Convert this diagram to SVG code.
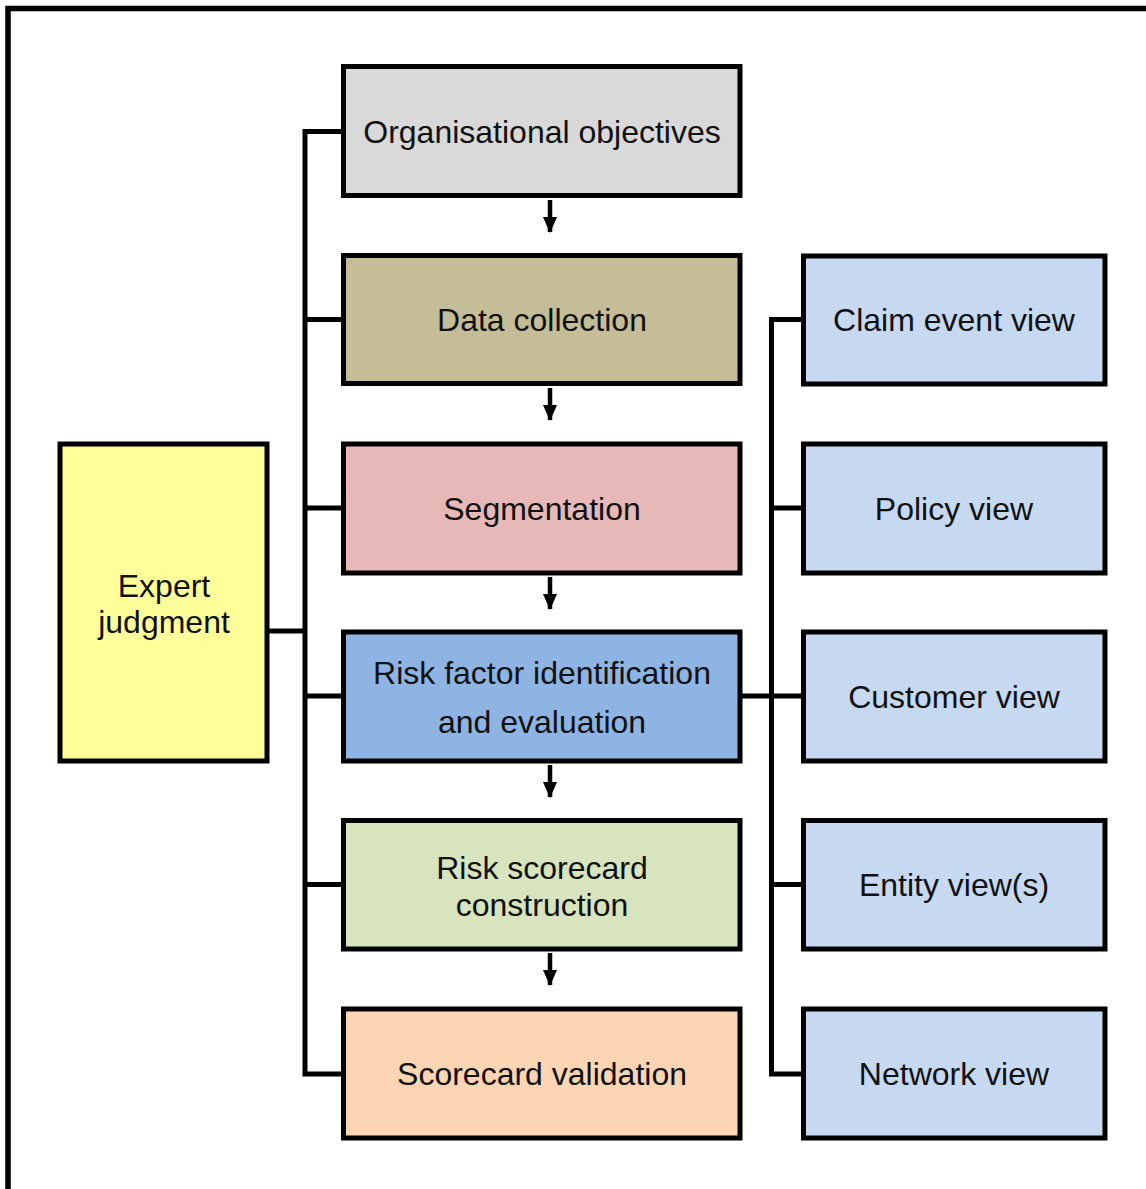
<svg xmlns="http://www.w3.org/2000/svg" width="1146" height="1189" viewBox="0 0 1146 1189">
  <style>
    .box { stroke: #000; stroke-width: 5; }
    .lbl { font-family: "Liberation Sans", Arial, sans-serif; font-size: 32px; fill: #111; text-anchor: middle; }
    .wire { fill: none; stroke: #000; stroke-width: 5; }
    .flow { stroke: #000; stroke-width: 4.5; }
    .view { fill: #c6d9f1; }
  </style>
  <defs>
    <!-- arrowhead drawn along +x so orient="auto" points it down the line -->
    <marker id="head" viewBox="0 0 16 14" refX="15" refY="7" markerWidth="16" markerHeight="14" markerUnits="userSpaceOnUse" orient="auto">
      <path d="M0,0 L16,7 L0,14 Z" fill="#000"/>
    </marker>
  </defs>

  <rect width="1146" height="1189" fill="#fff"/>
  <!-- outer frame -->
  <path d="M8,1189 V8.5 H1146" fill="none" stroke="#000" stroke-width="5.5"/>

  <!-- connectors -->
  <g id="connectors">
    <!-- left bus from expert judgment to process steps -->
    <path class="wire" d="M343,131.5 H305 V1074 H343"/>
    <path class="wire" d="M305,319.5 H343 M305,508 H343 M305,696 H343 M305,884.5 H343"/>
    <path class="wire" d="M268,631 H305"/>
    <!-- right bus from risk factor step to views -->
    <path class="wire" d="M803,319.5 H771.5 V1074 H803"/>
    <path class="wire" d="M771.5,508 H803 M771.5,884.5 H803"/>
    <path class="wire" d="M741,696 H803"/>
    <!-- flow arrows between steps -->
    <g class="flow">
      <line x1="550" y1="200" x2="550" y2="232" marker-end="url(#head)"/>
      <line x1="550" y1="388" x2="550" y2="420" marker-end="url(#head)"/>
      <line x1="550" y1="577" x2="550" y2="609" marker-end="url(#head)"/>
      <line x1="550" y1="765" x2="550" y2="797" marker-end="url(#head)"/>
      <line x1="550" y1="953" x2="550" y2="985" marker-end="url(#head)"/>
    </g>
  </g>

  <g id="expert">
    <rect class="box" x="60" y="444" width="207" height="317" fill="#ffff99"/>
    <text class="lbl" x="164" y="597">Expert</text>
    <text class="lbl" x="164" y="633">judgment</text>
  </g>

  <g id="objectives">
    <rect class="box" x="343.5" y="66.5" width="396.5" height="129" fill="#d9d9d9"/>
    <text class="lbl" x="542" y="143">Organisational objectives</text>
  </g>
  <g id="data">
    <rect class="box" x="343.5" y="255.5" width="396.5" height="128" fill="#c4bd97"/>
    <text class="lbl" x="542" y="331">Data collection</text>
  </g>
  <g id="segmentation">
    <rect class="box" x="343.5" y="444" width="396.5" height="129" fill="#e6b9b8"/>
    <text class="lbl" x="542" y="520">Segmentation</text>
  </g>
  <g id="riskfactor">
    <rect class="box" x="343.5" y="632" width="396.5" height="129" fill="#8eb4e3"/>
    <text class="lbl" x="542" y="684">Risk factor identification</text>
    <text class="lbl" x="542" y="733">and evaluation</text>
  </g>
  <g id="scorecard">
    <rect class="box" x="343.5" y="820.5" width="396.5" height="128.5" fill="#d7e4bd"/>
    <text class="lbl" x="542" y="879">Risk scorecard</text>
    <text class="lbl" x="542" y="916">construction</text>
  </g>
  <g id="validation">
    <rect class="box" x="343.5" y="1009" width="396.5" height="129" fill="#fcd5b5"/>
    <text class="lbl" x="542" y="1085">Scorecard validation</text>
  </g>

  <g id="claim">
    <rect class="box view" x="803.5" y="256" width="301.5" height="128"/>
    <text class="lbl" x="954" y="331">Claim event view</text>
  </g>
  <g id="policy">
    <rect class="box view" x="803.5" y="444" width="301.5" height="129"/>
    <text class="lbl" x="954" y="520">Policy view</text>
  </g>
  <g id="customer">
    <rect class="box view" x="803.5" y="632" width="301.5" height="129"/>
    <text class="lbl" x="954" y="708">Customer view</text>
  </g>
  <g id="entity">
    <rect class="box view" x="803.5" y="820.5" width="301.5" height="128.5"/>
    <text class="lbl" x="954" y="896">Entity view(s)</text>
  </g>
  <g id="network">
    <rect class="box view" x="803.5" y="1009" width="301.5" height="129"/>
    <text class="lbl" x="954" y="1085">Network view</text>
  </g>
</svg>
